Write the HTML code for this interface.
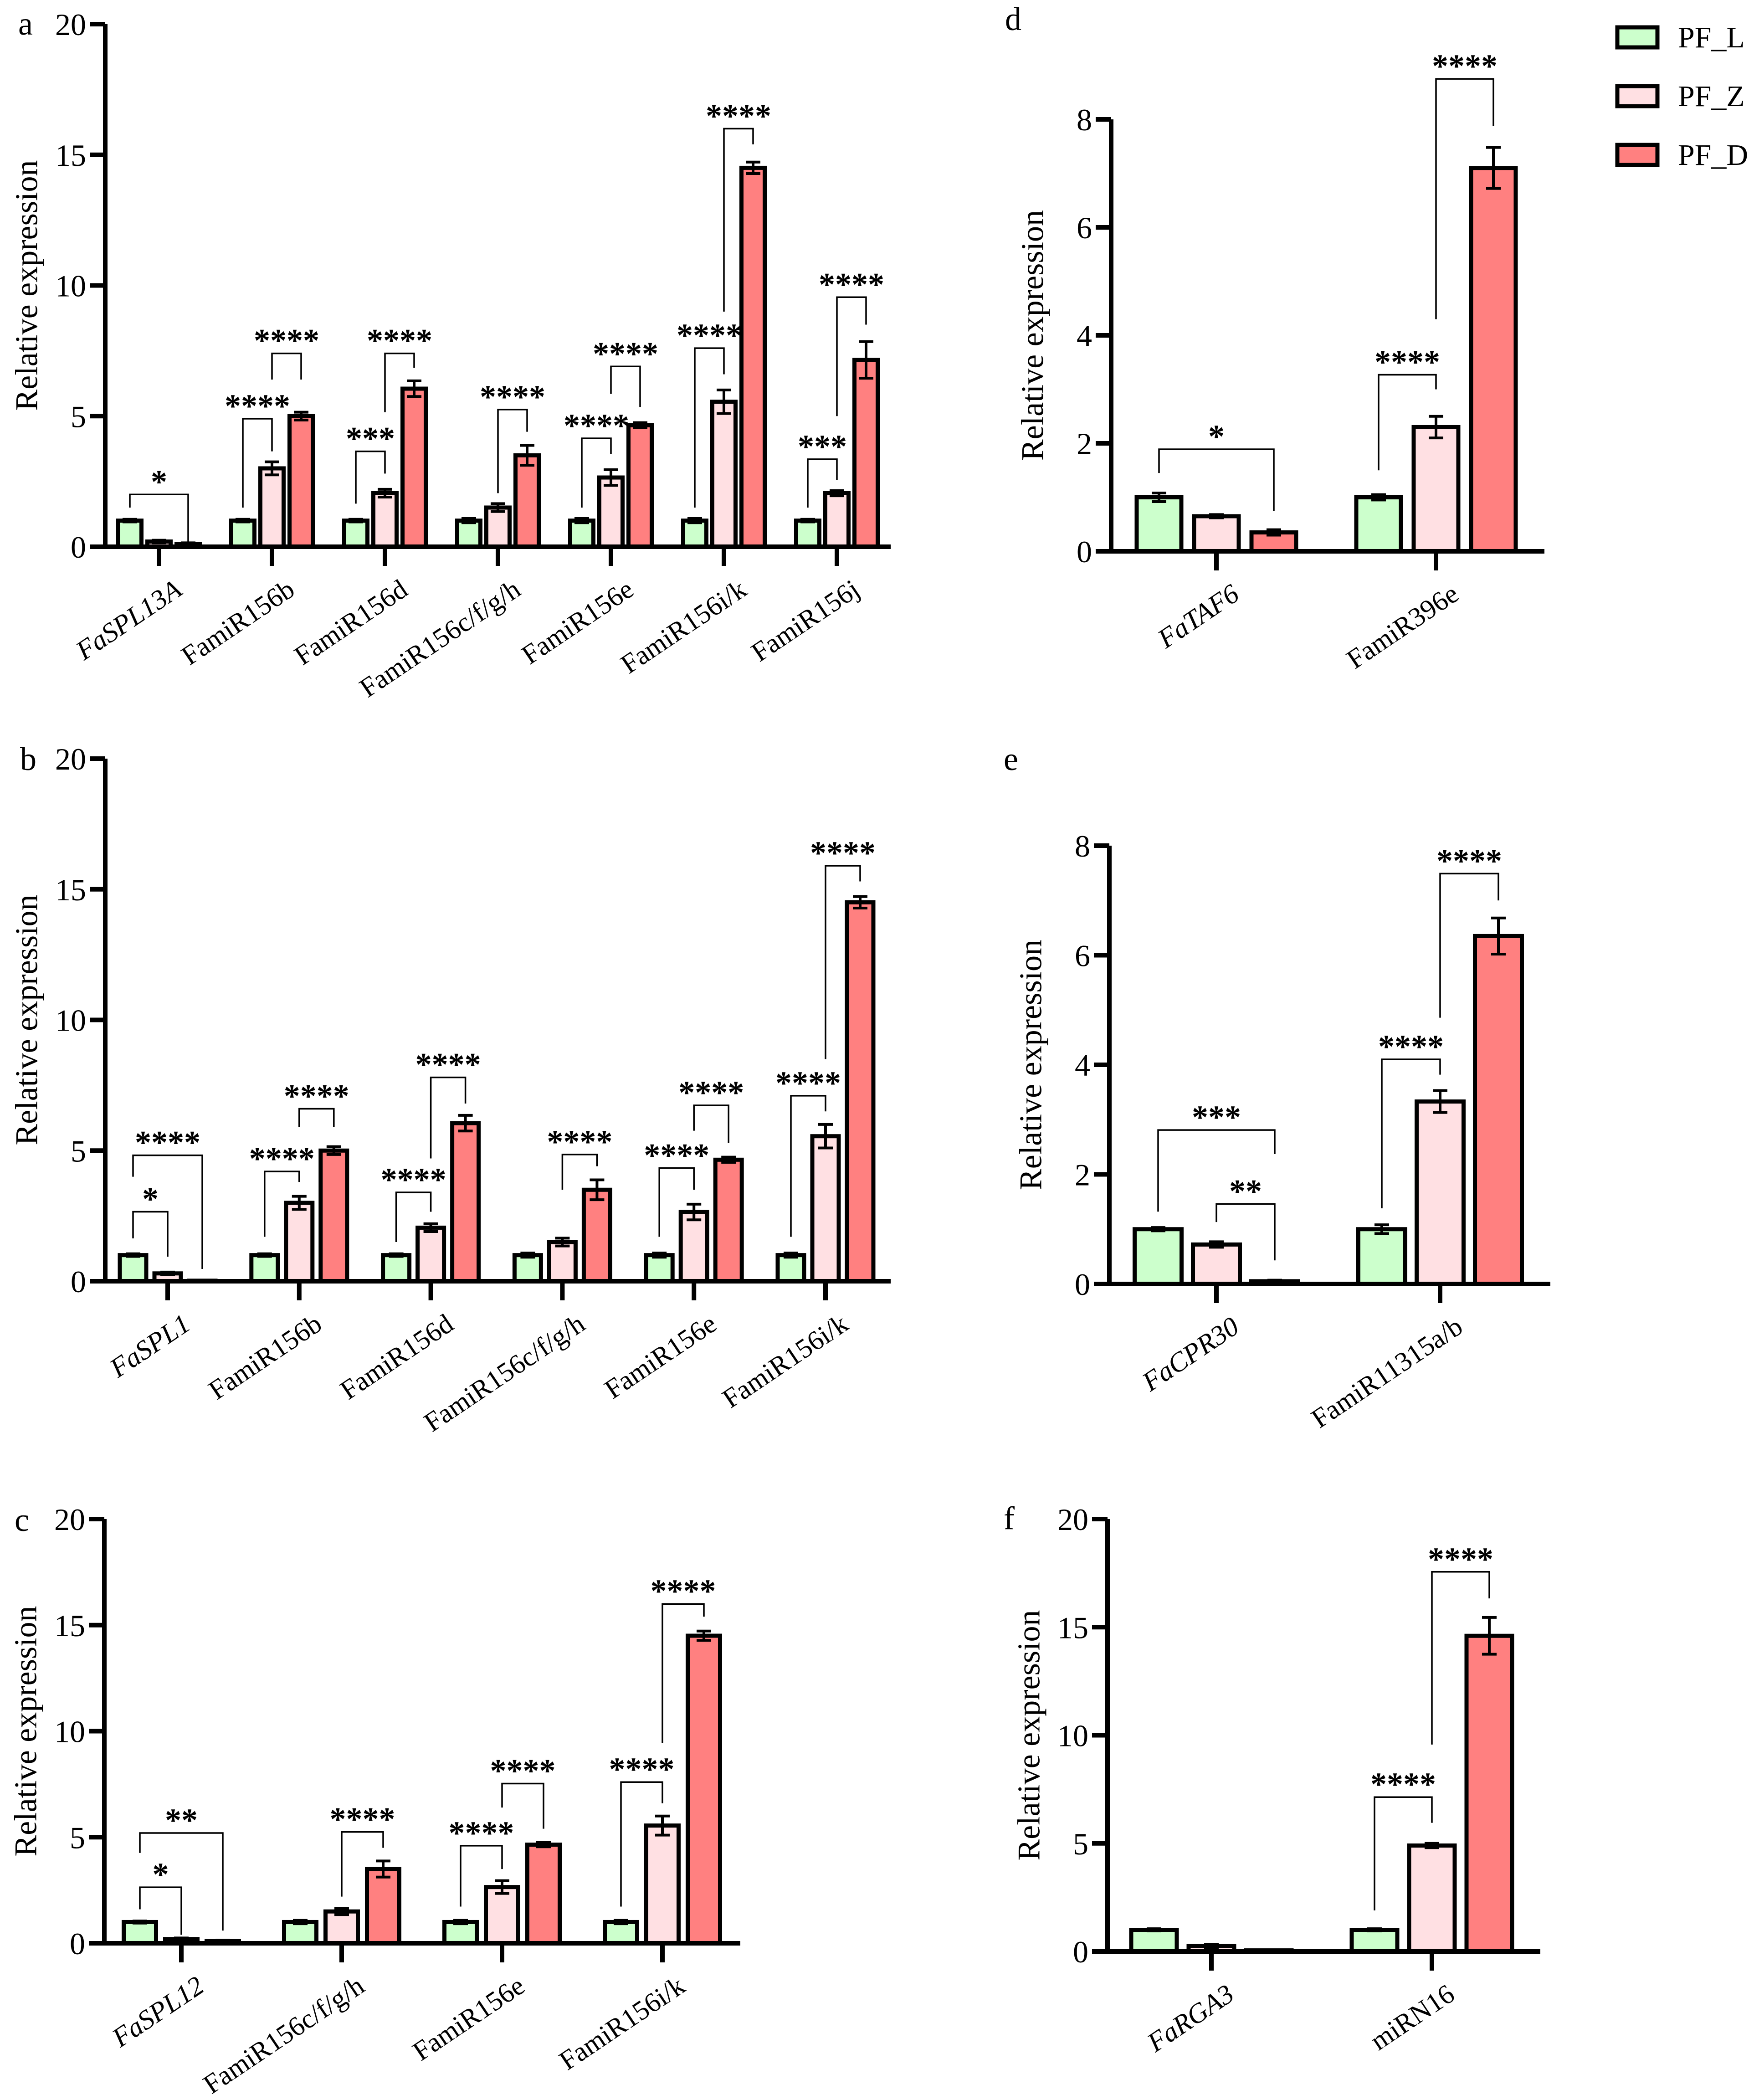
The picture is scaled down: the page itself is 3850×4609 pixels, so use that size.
<!DOCTYPE html>
<html><head><meta charset="utf-8"><style>
html,body{margin:0;padding:0;background:#fff}
svg{display:block}
text{font-family:"Liberation Serif","Times New Roman",serif;fill:#000}
</style></head><body>
<svg id="fig" width="3850" height="4609" viewBox="0 0 3850 4609" xmlns="http://www.w3.org/2000/svg"></svg>
<script>
// ---- data ----
const catsA = ["FaSPL13A","FamiR156b","FamiR156d","FamiR156c/f/g/h","FamiR156e","FamiR156i/k","FamiR156j"];
const valsA = [[1,0.2,0.1],[1,3.0,5.0],[1,2.05,6.05],[1,1.5,3.5],[1,2.65,4.65],[1,5.55,14.5],[1,2.05,7.15]];
const errsA = [[0.05,0.05,0.05],[0.05,0.25,0.15],[0.05,0.15,0.3],[0.08,0.15,0.38],[0.08,0.3,0.1],[0.08,0.45,0.22],[0.05,0.1,0.7]];
const sigA = [[0,0,2,2.0,1.5,0.15,"*"],[1,0,1,4.9,1.5,3.65,"****"],[1,1,2,7.4,6.4,6.4,"****"],[2,0,1,3.65,1.65,2.8,"***"],[2,1,2,7.4,5.15,6.85,"****"],[3,1,2,5.25,2.05,4.4,"****"],[4,0,1,4.15,1.5,3.55,"****"],[4,1,2,6.9,5.85,5.35,"****"],[5,0,1,7.6,1.5,6.6,"****"],[5,1,2,16.0,9.0,15.4,"****"],[6,0,1,3.35,1.5,2.55,"***"],[6,1,2,9.55,5.0,8.5,"****"]];

const catsB = ["FaSPL1","FamiR156b","FamiR156d","FamiR156c/f/g/h","FamiR156e","FamiR156i/k"];
const valsB = [[1,0.3,0.02],[1,3.0,5.0],[1,2.05,6.05],[1,1.5,3.5],[1,2.65,4.65],[1,5.55,14.5]];
const errsB = [[0.05,0.05,0],[0.05,0.25,0.15],[0.05,0.15,0.3],[0.08,0.15,0.38],[0.08,0.3,0.1],[0.08,0.45,0.22]];
const sigB = [[0,0,1,2.66,1.64,0.94,"*"],[0,0,2,4.82,4.0,0.47,"****"],[1,0,1,4.2,1.7,3.8,"****"],[1,1,2,6.6,5.9,5.9,"****"],[2,0,1,3.4,1.5,2.66,"****"],[2,1,2,7.8,4.7,6.8,"****"],[3,1,2,4.85,3.5,4.4,"****"],[4,0,1,4.33,1.7,3.5,"****"],[4,1,2,6.73,5.76,5.3,"****"],[5,0,1,7.1,1.7,6.5,"****"],[5,1,2,15.9,8.5,15.3,"****"]];

const catsC = ["FaSPL12","FamiR156c/f/g/h","FamiR156e","FamiR156i/k"];
const valsC = [[1,0.2,0.1],[1,1.5,3.5],[1,2.65,4.65],[1,5.55,14.5]];
const errsC = [[0.05,0.05,0.05],[0.08,0.15,0.38],[0.08,0.3,0.1],[0.08,0.45,0.22]];
const sigC = [[0,0,1,2.64,1.6,0.4,"*"],[0,0,2,5.2,4.26,0.6,"**"],[1,1,2,5.25,2.2,4.5,"****"],[2,0,1,4.6,1.73,3.5,"****"],[2,1,2,7.53,6.4,5.4,"****"],[3,0,1,7.6,1.73,6.6,"****"],[3,1,2,16.0,9.44,15.4,"****"]];

const catsD = ["FaTAF6","FamiR396e"];
const valsD = [[1,0.65,0.35],[1,2.3,7.1]];
const errsD = [[0.08,0.03,0.05],[0.05,0.2,0.38]];
const sigD = [[0,0,2,1.89,1.45,0.75,"*"],[1,0,1,3.27,1.5,3.0,"****"],[1,1,2,8.75,4.3,7.88,"****"]];

const catsE = ["FaCPR30","FamiR11315a/b"];
const valsE = [[1,0.72,0.05],[1,3.33,6.35]];
const errsE = [[0.03,0.05,0.02],[0.08,0.2,0.33]];
const sigE = [[0,0,2,2.81,1.32,2.37,"***"],[0,1,2,1.46,1.13,0.43,"**"],[1,0,1,4.1,1.38,3.82,"****"],[1,1,2,7.49,4.86,7.0,"****"]];

const catsF = ["FaRGA3","miRN16"];
const valsF = [[1,0.25,0.05],[1,4.9,14.6]];
const errsF = [[0.05,0.08,0.02],[0.05,0.1,0.85]];
const sigF = [[1,0,1,7.14,1.9,5.95,"****"],[1,1,2,17.56,9.57,16.33,"****"]];

const seriesNames = ["PF_L","PF_Z","PF_D"];
const fills = ["#ccffcc","#ffe0e3","#ff8080"];
const italicCats = ["FaSPL13A","FaSPL1","FaSPL12","FaTAF6","FaCPR30","FaRGA3"];

// ---- drawing ----
const NS = "http://www.w3.org/2000/svg";
const svg = document.getElementById("fig");
function mk(tag, attrs, parent){
  const e = document.createElementNS(NS, tag);
  for (const k in attrs) e.setAttribute(k, attrs[k]);
  (parent||svg).appendChild(e);
  return e;
}
function panel(cfg, cats, vals, errs, sigs){
  const g = mk("g", {});
  
  
  const y = v => cfg.yZero - (v / cfg.max) * (cfg.yZero - cfg.yTop);
  const gx = i => cfg.g0 + i * cfg.gs;
  vals.forEach((grp, i) => {
    grp.forEach((v, j) => {
      const cx = gx(i) + (j - 1) * cfg.gap;
      const top = y(v), h = cfg.yZero - top;
      const r = mk("rect", {x: cx - cfg.bw/2, y: top, width: cfg.bw, height: Math.max(h,0), fill: fills[j], stroke: "#000", "stroke-width": 9}, g);
      
      
      const e = errs[i][j];
      if (e > 0) {
        const eb = mk("path", {d: `M${cx},${y(v+e)}V${y(v-e)}M${cx-16},${y(v+e)}H${cx+16}M${cx-16},${y(v-e)}H${cx+16}`, stroke: "#000", "stroke-width": 6, fill: "none"}, g);
        
        
      }
    });
  });
  const ax = mk("path", {d: `M${cfg.x0},${cfg.yTop}V${cfg.yZero}H${cfg.xEnd}`, stroke: "#000", "stroke-width": 10, fill: "none"}, g);
  
  
  for (let t = 0; t <= cfg.max; t += cfg.step) {
    mk("line", {x1: cfg.x0 - 34, x2: cfg.x0, y1: y(t), y2: y(t), stroke: "#000", "stroke-width": 10}, g);
    const tl = mk("text", {x: cfg.x0 - 42, y: y(t) + 24, "text-anchor": "end", "font-size": 68}, g);
    tl.textContent = t;
    
    
  }
  cats.forEach((c, i) => {
    mk("line", {x1: gx(i), x2: gx(i), y1: cfg.yZero, y2: cfg.yZero + 42, stroke: "#000", "stroke-width": 10}, g);
    const tx = gx(i) + 30, ty = cfg.yZero + 68;
    const t = mk("text", {x: tx, y: ty, "text-anchor": "end", "dominant-baseline": "hanging", "font-size": 60, transform: `rotate(-34 ${tx} ${ty})`}, g);
    if (italicCats.includes(c)) t.setAttribute("font-style", "italic");
    t.textContent = c;
    
    
  });
  const mid = (cfg.yTop + cfg.yZero) / 2, tx = cfg.x0 - 172;
  const yt = mk("text", {x: tx, y: mid, "text-anchor": "middle", "dominant-baseline": "central", "font-size": 70, transform: `rotate(-90 ${tx} ${mid})`}, g);
  yt.textContent = "Relative expression";
  
  
  const lt = mk("text", {x: cfg.lx, y: cfg.ly, "font-size": 72}, g);
  lt.textContent = cfg.letter;
  
  
  sigs.forEach(s => {
    const [gi, a, b, top, le, re, lab] = s;
    const xa = gx(gi) + (a - 1) * cfg.gap, xb = gx(gi) + (b - 1) * cfg.gap;
    const p = mk("path", {d: `M${xa},${y(le)}V${y(top)}H${xb}V${y(re)}`, stroke: "#000", "stroke-width": 3.5, fill: "none"}, g);
    
    
    const st = mk("text", {x: (xa + xb) / 2, y: y(top) - 4, "text-anchor": "middle", "font-size": 72, "font-weight": "bold"}, g);
    st.textContent = lab;
    
    
  });
}
panel({letter:"a", lx:40, ly:76, x0:231, xEnd:1955, yTop:53, yZero:1200, max:20, step:5, g0:349, gs:248, bw:51, gap:64}, catsA, valsA, errsA, sigA);
panel({letter:"b", lx:44, ly:1690, x0:231, xEnd:1955, yTop:1665, yZero:2812, max:20, step:5, g0:368, gs:288.8, bw:58, gap:76}, catsB, valsB, errsB, sigB);
panel({letter:"c", lx:32, ly:3360, x0:229, xEnd:1625, yTop:3334, yZero:4265, max:20, step:5, g0:398, gs:352, bw:71, gap:91}, catsC, valsC, errsC, sigC);
panel({letter:"d", lx:2206, ly:66, x0:2439, xEnd:3390, yTop:262, yZero:1210, max:8, step:2, g0:2670, gs:482, bw:98, gap:126}, catsD, valsD, errsD, sigD);
panel({letter:"e", lx:2203, ly:1690, x0:2435, xEnd:3403, yTop:1856, yZero:2818, max:8, step:2, g0:2670, gs:491, bw:103, gap:128}, catsE, valsE, errsE, sigE);
panel({letter:"f", lx:2203, ly:3356, x0:2431, xEnd:3381, yTop:3334, yZero:4283, max:20, step:5, g0:2659, gs:484, bw:100, gap:126}, catsF, valsF, errsF, sigF);

const lg = mk("g", {});


seriesNames.forEach((n, i) => {
  const cy = 82 + i * 129;
  const r = mk("rect", {x: 3550, y: cy - 22, width: 88, height: 44, fill: fills[i], stroke: "#000", "stroke-width": 9}, lg);
  
  
  const t = mk("text", {x: 3683, y: cy + 22, "font-size": 66}, lg);
  t.textContent = n;
  
  
});
</script>
</body></html>
